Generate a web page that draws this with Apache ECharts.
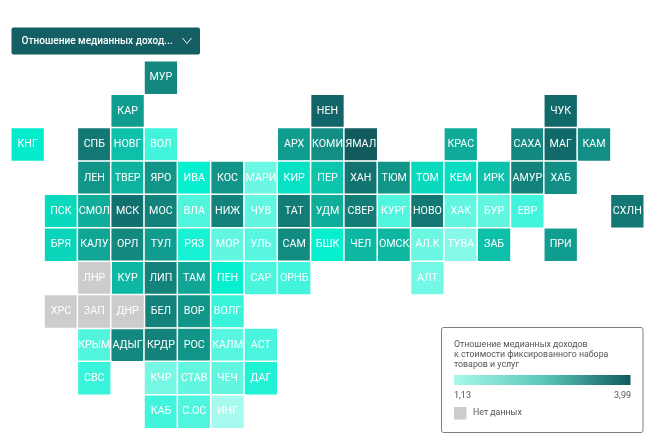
<!DOCTYPE html>
<html>
<head>
<meta charset="utf-8">
<style>
  html, body { margin: 0; padding: 0; background: #fff; }
  #chart { width: 656px; height: 435px; }
</style>
<script src="https://cdn.jsdelivr.net/npm/echarts@6/dist/echarts.min.js"></script>
</head>
<body>
<div id="chart"></div>
<script>
// Tile-grid map of Russian regions: [short name, column, row]
const regionsWithData = [
  ['МУР',4,0],['КАР',3,1],['НЕН',9,1],['ЧУК',16,1],
  ['КНГ',0,2],['СПБ',2,2],['НОВГ',3,2],['ВОЛ',4,2],['АРХ',8,2],['КОМИ',9,2],['ЯМАЛ',10,2],['КРАС',13,2],['САХА',15,2],['МАГ',16,2],['КАМ',17,2],
  ['ЛЕН',2,3],['ТВЕР',3,3],['ЯРО',4,3],['ИВА',5,3],['КОС',6,3],['МАРИ',7,3],['КИР',8,3],['ПЕР',9,3],['ХАН',10,3],['ТЮМ',11,3],['ТОМ',12,3],['КЕМ',13,3],['ИРК',14,3],['АМУР',15,3],['ХАБ',16,3],
  ['ПСК',1,4],['СМОЛ',2,4],['МСК',3,4],['МОС',4,4],['ВЛА',5,4],['НИЖ',6,4],['ЧУВ',7,4],['ТАТ',8,4],['УДМ',9,4],['СВЕР',10,4],['КУРГ',11,4],['НОВО',12,4],['ХАК',13,4],['БУР',14,4],['ЕВР',15,4],['СХЛН',18,4],
  ['БРЯ',1,5],['КАЛУ',2,5],['ОРЛ',3,5],['ТУЛ',4,5],['РЯЗ',5,5],['МОР',6,5],['УЛЬ',7,5],['САМ',8,5],['БШК',9,5],['ЧЕЛ',10,5],['ОМСК',11,5],['АЛ.К',12,5],['ТУВА',13,5],['ЗАБ',14,5],['ПРИ',16,5],
  ['КУР',3,6],['ЛИП',4,6],['ТАМ',5,6],['ПЕН',6,6],['САР',7,6],['ОРНБ',8,6],['АЛТ',12,6],
  ['БЕЛ',4,7],['ВОР',5,7],['ВОЛГ',6,7],
  ['КРЫМ',2,8],['АДЫГ',3,8],['КРДР',4,8],['РОС',5,8],['КАЛМ',6,8],['АСТ',7,8],
  ['СВС',2,9],['КЧР',4,9],['СТАВ',5,9],['ЧЕЧ',6,9],['ДАГ',7,9],
  ['КАБ',4,10],['С.ОС',5,10],['ИНГ',6,10]
];

// Ratio of median income to the cost of the fixed basket, same order as above
const ratioValues = [
  2.8,2.5,3.6,3.5,
  1.65,3.1,2.1,1.42,2.5,2.7,3.99,2.35,2.8,3.5,2.7,
  2.6,2.25,2.6,1.6,2.6,1.3,1.75,2.05,3.2,2.6,1.85,1.8,2.1,2.9,2.7,
  1.85,2.3,3.3,2.9,1.38,2.9,1.33,3.0,2.3,3.0,1.38,3.1,1.33,1.33,1.42,3.1,
  1.9,2.4,2.8,2.5,1.55,1.33,1.36,2.75,1.6,2.2,2.2,1.3,1.22,2.1,2.5,
  2.2,2.9,2.4,1.6,1.4,1.42,1.28,
  2.9,2.6,1.45,
  1.38,2.8,2.9,2.6,1.36,1.4,
  1.45,1.27,1.33,1.33,1.52,
  1.42,1.38,1.13
];

// Regions without figures
const regionsNoData = [['ЛНР',2,6],['ХРС',1,7],['ЗАП',2,7],['ДНР',3,7]];

const columns = Array.from({ length: 19 }, (_, i) => i);
const rows = Array.from({ length: 11 }, (_, i) => i);

const minValue = 1.13;
const maxValue = 3.99;
const tileColors = ['#a6fbee', '#04f0d0', '#0dc2aa', '#11978a', '#137a74', '#11686a', '#115a5d'];
const legendColors = ['#a8f8ea', '#5cc9ba', '#125a5e'];
const dropdownLabel = 'Отношение медианных доход...';
const legendTitle = ['Отношение медианных доходов', 'к стоимости фиксированного набора', 'товаров и услуг'];
const noDataLabel = 'Нет данных';
const fontFamily = 'Roboto, sans-serif';

const tileLabel = {
  show: true,
  formatter: p => p.name,
  color: '#fff',
  fontFamily,
  fontSize: 10.7
};
const tileBorder = { borderColor: '#fff', borderWidth: 1.5 };

const chart = echarts.init(document.getElementById('chart'), null, { renderer: 'canvas' });

chart.setOption({
  animation: false,
  grid: { left: 11, top: 61, width: 633, height: 367.4, containLabel: false },
  xAxis: { type: 'category', data: columns, show: false },
  yAxis: { type: 'category', data: rows, show: false, inverse: true },
  visualMap: [
    { show: false, seriesIndex: 0, min: minValue, max: maxValue, inRange: { color: tileColors } },
    { show: false, seriesIndex: 1, min: 0, max: 1, inRange: { color: ['#cccccc', '#cccccc'] } }
  ],
  series: [
    {
      type: 'heatmap',
      silent: true,
      data: regionsWithData.map((r, i) => ({ name: r[0], value: [r[1], r[2], ratioValues[i]] })),
      label: tileLabel,
      itemStyle: tileBorder
    },
    {
      type: 'heatmap',
      silent: true,
      data: regionsNoData.map(r => ({ name: r[0], value: [r[1], r[2], 0] })),
      label: tileLabel,
      itemStyle: tileBorder
    }
  ],
  graphic: [
    // Indicator selector
    { type: 'rect', shape: { x: 11.5, y: 27.5, width: 188.5, height: 27, r: 2 }, style: { fill: '#145f63' } },
    { type: 'text', style: { x: 21.5, y: 41, text: dropdownLabel, fill: '#fff', font: '500 10.1px ' + fontFamily, textVerticalAlign: 'middle' } },
    { type: 'polyline', shape: { points: [[182.5, 38], [187, 43.5], [191.5, 38]] }, style: { fill: null, stroke: '#e8f2f2', lineWidth: 1 } },
    // Legend panel
    { type: 'rect', shape: { x: 441.5, y: 327.5, width: 201.5, height: 105, r: 2 }, style: { fill: '#fff', stroke: '#7d7d7d', lineWidth: 1 } },
    ...legendTitle.map((line, i) => ({
      type: 'text',
      style: { x: 454, y: 344.5 + i * 10.2, text: line, fill: '#555', font: '8.8px ' + fontFamily, textVerticalAlign: 'middle' }
    })),
    {
      type: 'rect',
      shape: { x: 454, y: 375, width: 176.5, height: 10 },
      style: {
        fill: new echarts.graphic.LinearGradient(0, 0, 1, 0,
          legendColors.map((c, i) => ({ offset: i / (legendColors.length - 1), color: c })))
      }
    },
    { type: 'text', style: { x: 454, y: 395.5, text: String(minValue).replace('.', ','), fill: '#555', font: '9px ' + fontFamily, textVerticalAlign: 'middle' } },
    { type: 'text', style: { x: 631, y: 395.5, text: String(maxValue).replace('.', ','), fill: '#555', font: '9px ' + fontFamily, textAlign: 'right', textVerticalAlign: 'middle' } },
    { type: 'rect', shape: { x: 454, y: 407, width: 12.5, height: 12.5 }, style: { fill: '#cccccc' } },
    { type: 'text', style: { x: 473, y: 413, text: noDataLabel, fill: '#555', font: '8.8px ' + fontFamily, textVerticalAlign: 'middle' } }
  ]
});
</script>
</body>
</html>
